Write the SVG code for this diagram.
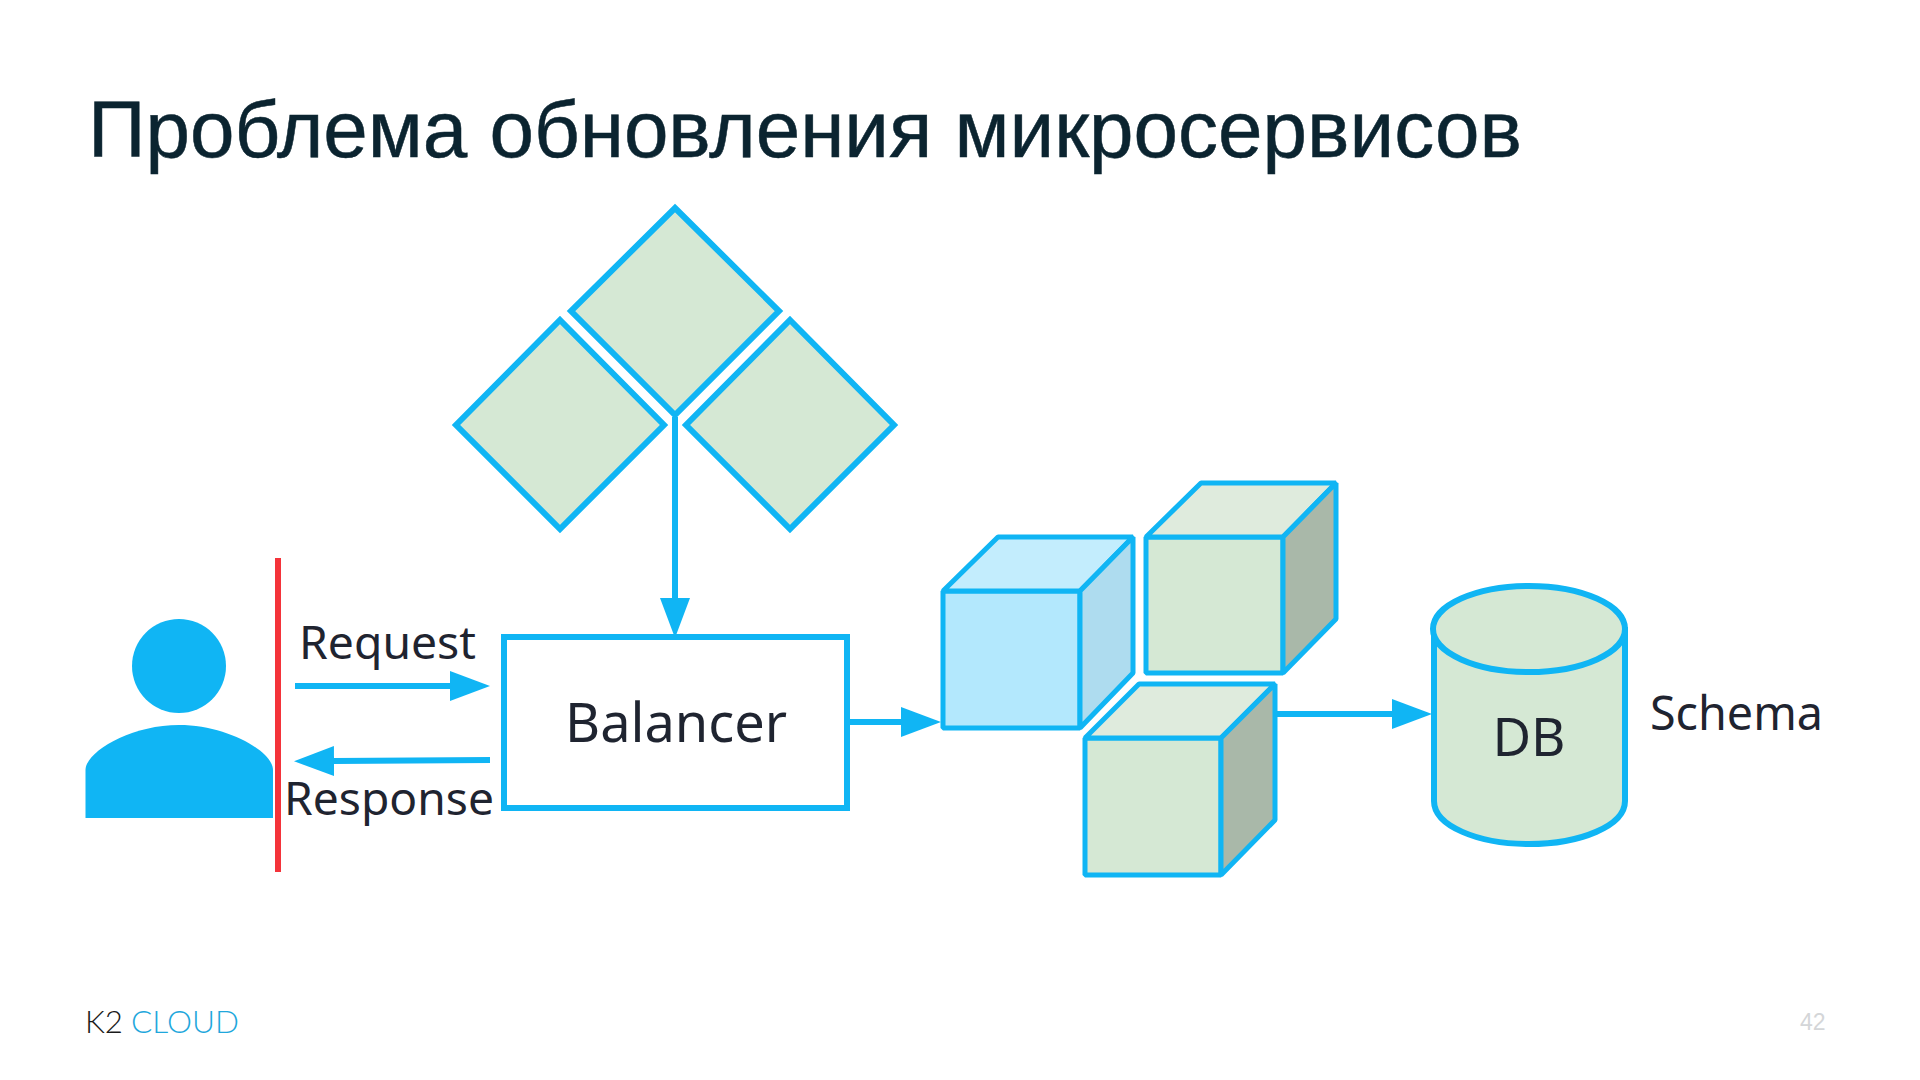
<svg xmlns="http://www.w3.org/2000/svg" width="1920" height="1080" viewBox="0 0 1920 1080">
<style>
.s{stroke:#10b5f4;stroke-width:6;stroke-linejoin:miter}
.k{stroke:#10b5f4;stroke-width:5;stroke-linejoin:bevel}
.g{fill:#d5e8d4}.gt{fill:#dfebdd}.gs{fill:#a9b8a9}
.b{fill:#b3e8fd}.bt{fill:#c3edfd}.bs{fill:#aedcef}
.t{font-family:"Noto Sans","Open Sans",sans-serif;fill:#1f2430}
.c{fill:none;stroke:#10b5f4;stroke-width:6}
</style>
<defs>
<marker id="a" markerUnits="userSpaceOnUse" markerWidth="40" markerHeight="30" refX="0" refY="15" orient="auto"><path d="M0,0L40,15L0,30z" fill="#10b5f4"/></marker>
</defs>
<rect width="1920" height="1080" fill="#fff"/>
<text id="title" x="88" y="157" font-family="'Liberation Sans',Arial,sans-serif" font-size="80" fill="#0b2430" stroke="#0b2430" stroke-width="0.5" textLength="1434" lengthAdjust="spacingAndGlyphs">Проблема обновления микросервисов</text>
<g id="ms-top"><path class="s g" d="M675,208L779,311L675,415L571,311Z"/></g>
<g id="ms-left"><path class="s g" d="M560,320L664,425L560,529L456,425Z"/></g>
<g id="ms-right"><path class="s g" d="M790,320L894,425L790,529L686,425Z"/></g>
<g id="user">
<ellipse cx="179" cy="666" rx="47" ry="47" fill="#10b5f4"/>
<path d="M85.500,818V770C85.500,752 130,725 179,725C228,725 273,752 273,770V818Z" fill="#10b5f4"/>
</g>
<rect id="boundary" x="275" y="558" width="6" height="314" fill="#f4333a"/>
<g id="connectors">
<path class="c" d="M675,417V598" marker-end="url(#a)"/>
<path class="c" d="M295,686H450" marker-end="url(#a)"/>
<path class="c" d="M490,760L334,761" marker-end="url(#a)"/>
<path class="c" d="M849,722H901" marker-end="url(#a)"/>
<path class="c" d="M1277,714H1392" marker-end="url(#a)"/>
</g>
<g id="balancer">
<rect x="504" y="637" width="343" height="171" fill="#fff" class="s"/>
<text class="t" x="565" y="742" font-size="54" textLength="222" lengthAdjust="spacingAndGlyphs">Balancer</text>
</g>
<text id="request" class="t" x="299" y="659" font-size="45" textLength="177" lengthAdjust="spacingAndGlyphs">Request</text>
<text id="response" class="t" x="284" y="815" font-size="45" textLength="210" lengthAdjust="spacingAndGlyphs">Response</text>
<g id="cube-blue">
<path class="k b" d="M943,591H1080V728H943Z"/>
<path class="k bt" d="M943,591L998,537H1133L1080,591Z"/>
<path class="k bs" d="M1080,591L1133,537V673L1080,728Z"/>
</g>
<g id="cube-green-top">
<path class="k g" d="M1146,537H1283V673H1146Z"/>
<path class="k gt" d="M1146,537L1201,483H1336L1283,537Z"/>
<path class="k gs" d="M1283,537L1336,483V619L1283,673Z"/>
</g>
<g id="cube-green-bottom">
<path class="k g" d="M1085,738H1221V875H1085Z"/>
<path class="k gt" d="M1085,738L1139,684H1275L1221,738Z"/>
<path class="k gs" d="M1221,738L1275,684V820L1221,875Z"/>
</g>
<g id="db">
<path class="s g" d="M1434,630V801C1434,826 1478,844 1529,844C1580,844 1625,826 1625,801V630Z"/>
<ellipse class="s g" cx="1529" cy="629" rx="96" ry="43"/>
<text class="t" x="1529" y="756" font-size="53" text-anchor="middle">DB</text>
</g>
<text id="schema" class="t" x="1650" y="730" font-size="47" textLength="173" lengthAdjust="spacingAndGlyphs">Schema</text>
<g id="logo" font-family="Lato,'Noto Sans',sans-serif" font-size="31" font-weight="300">
<text x="85" y="1033" fill="#1a1a1a" textLength="38" lengthAdjust="spacingAndGlyphs">K2</text>
<text x="131" y="1033" fill="#1fa7dc" textLength="108" lengthAdjust="spacingAndGlyphs">CLOUD</text>
</g>
<text id="page" x="1800" y="1030" font-family="'Liberation Sans',sans-serif" font-size="23" fill="#d4d6d8">42</text>
</svg>
